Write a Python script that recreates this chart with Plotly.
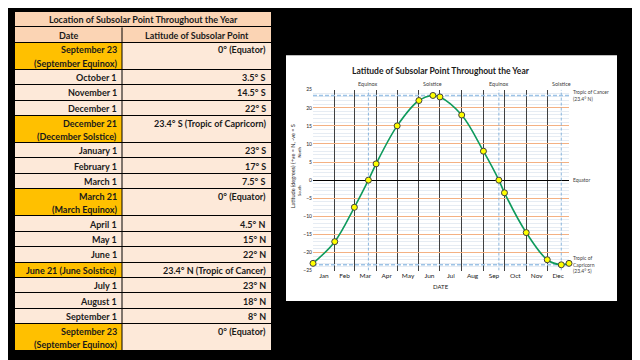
import plotly.graph_objects as go

# ---------------- Table data ----------------
table_title = "Location of Subsolar Point Throughout the Year"
table_headers = ["Date", "Latitude of Subsolar Point"]
table_dates = ["September 23", "October 1", "November 1", "December 1", "December 21",
               "January 1", "February 1", "March 1", "March 21", "April 1", "May 1",
               "June 1", "June 21 (June Solstice)", "July 1", "August 1", "September 1",
               "September 23"]
table_events = ["(September Equinox)", "", "", "", "(December Solstice)",
                "", "", "", "(March Equinox)", "", "",
                "", "", "", "", "",
                "(September Equinox)"]
table_lats = ["0° (Equator)", "3.5° S", "14.5° S", "22° S", "23.4° S (Tropic of Capricorn)",
              "23° S", "17° S", "7.5° S", "0° (Equator)", "4.5° N", "15° N",
              "22° N", "23.4° N (Tropic of Cancer)", "23° N", "18° N", "8° N",
              "0° (Equator)"]
table_highlight = [True, False, False, False, True,
                   False, False, False, True, False, False,
                   False, True, False, False, False,
                   True]

# ---------------- Chart data ----------------
chart_title = "Latitude of Subsolar Point Throughout the Year"
point_dates = ["2021-01-01", "2021-02-01", "2021-03-01", "2021-03-21", "2021-04-01",
               "2021-05-01", "2021-06-01", "2021-06-21", "2021-07-01", "2021-08-01",
               "2021-09-01", "2021-09-23", "2021-10-01", "2021-11-01", "2021-12-01",
               "2021-12-21", "2022-01-01"]
point_lats = [-23, -17, -7.5, 0, 4.5, 15, 22, 23.4, 23, 18, 8, 0, -3.5, -14.5, -22, -23.4, -23]
event_dates = ["2021-03-21", "2021-06-21", "2021-09-23", "2021-12-21"]
event_labels = ["Equinox", "Solstice", "Equinox", "Solstice"]
dashed_event_dates = ["2021-03-21", "2021-09-23", "2021-12-21"]
tropic_lat = 23.4
right_labels = ["Tropic of Cancer<br>(23.4° N)", "Equator", "Tropic of<br>Capricorn<br>(23.4° S)"]
right_label_lats = [23.4, 0, -23.4]
y_title = "Latitude (degrees) (+ve = N, -ve = S"
x_title = "DATE"
X_RANGE = ["2021-01-01", "2022-01-01"]
Y_RANGE = [-25, 25]

# ---------------- Geometry helpers ----------------
W, H = 640, 360
OFF = 8  # page body margin offset of the figure inside the window
def px(x):
    return (x - OFF) / W
def py(y):
    return 1 - (y - OFF) / H

FONT = "Lato"
TXT = "#1a1a1a"

fig = go.Figure()

# ---------------- Table (heatmap cells on own axes) ----------------
COL1, COL2 = 107, 149
TOTW = COL1 + COL2
row_h = [1, 1] + [1.75 if e else 1 for e in table_events]
edges = [0]
for h in row_h:
    edges.append(edges[-1] + h)
total_h = edges[-1]

z = [[2, 2], [2, 2]] + [[1 if hl else 0, 0] for hl in table_highlight]
fig.add_trace(go.Heatmap(
    z=z, x=[0, COL1, TOTW], y=edges,
    zmin=0, zmax=2,
    colorscale=[[0, "#FDE9D9"], [0.5, "#FFC000"], [1, "#FBD4B4"]],
    showscale=False, ygap=1, xgap=0, hoverinfo="skip",
    xaxis="x2", yaxis="y2"))

shapes = []
annotations = []
shapes.append(dict(type="line", xref="x2", yref="y2", x0=COL1, x1=COL1, y0=edges[1], y1=total_h,
                   line=dict(color="black", width=1)))

tfont = dict(family=FONT, size=9, color=TXT, weight="bold")
def tann(x, y, text, xanchor="right"):
    annotations.append(dict(xref="x2", yref="y2", x=x, y=y, xanchor=xanchor, yanchor="middle",
                            text=text, showarrow=False, font=tfont))

tann(TOTW / 2, (edges[0] + edges[1]) / 2, table_title, "center")
tann(COL1 / 2, (edges[1] + edges[2]) / 2, table_headers[0], "center")
tann(COL1 + COL2 / 2, (edges[1] + edges[2]) / 2, table_headers[1], "center")
for i, (d, e, lat) in enumerate(zip(table_dates, table_events, table_lats)):
    top = edges[i + 2]
    bot = edges[i + 3]
    if e:
        y1 = top + 0.45
        y2 = top + 1.32
        tann(COL1 - 3, y1, d)
        tann(COL1 - 3, y2, e)
        tann(TOTW - 3, y1, lat)
    else:
        yc = (top + bot) / 2
        tann(COL1 - 3, yc, d)
        tann(TOTW - 3, yc, lat)

# ---------------- Chart ----------------
shapes.append(dict(type="rect", xref="paper", yref="paper",
                   x0=px(286), x1=px(617), y0=py(303), y1=py(53),
                   fillcolor="white", line=dict(width=0), layer="below"))

# dashed reference lines (as traces so they sit above the grid)
for d in dashed_event_dates:
    fig.add_trace(go.Scatter(x=[d, d], y=Y_RANGE, mode="lines",
                             line=dict(color="#6FA3D6", width=0.8, dash="3px,2px"),
                             hoverinfo="skip", cliponaxis=False, xaxis="x", yaxis="y"))
for lat in (tropic_lat, -tropic_lat):
    fig.add_trace(go.Scatter(x=X_RANGE, y=[lat, lat], mode="lines",
                             line=dict(color="#9DC3E6", width=1.5, dash="4px,2px"),
                             hoverinfo="skip", cliponaxis=False, xaxis="x", yaxis="y"))

fig.add_trace(go.Scatter(
    x=point_dates, y=point_lats, mode="lines+markers",
    line=dict(shape="spline", color="#0E9A5C", width=1.6),
    marker=dict(size=6, color="#FFFF00", line=dict(color="#404040", width=1)),
    cliponaxis=False, hoverinfo="skip", xaxis="x", yaxis="y"))

small = dict(family=FONT, size=5, color="#404040")
for d, lab in zip(event_dates, event_labels):
    annotations.append(dict(xref="x", yref="y domain", x=d, y=1, xanchor="center",
                            yanchor="bottom", yshift=1, text=lab, showarrow=False,
                            font=dict(family=FONT, size=5.5, color="#404040")))
for lab, lat in zip(right_labels, right_label_lats):
    annotations.append(dict(xref="x domain", yref="y", x=1, y=lat, xanchor="left",
                            yanchor="middle", xshift=2, align="left", text=lab,
                            showarrow=False, font=small))

def pann(x, y, text, font, angle=0):
    annotations.append(dict(xref="paper", yref="paper", x=px(x), y=py(y), xanchor="center",
                            yanchor="middle", text=text, textangle=angle, showarrow=False,
                            font=font))

pann(441, 69, chart_title, dict(family=FONT, size=8.5, color=TXT, weight="bold"))
pann(293, 166, y_title, dict(family=FONT, size=5.5, color=TXT), -90)
pann(300, 152, "North", dict(family=FONT, size=4, color=TXT), -90)
pann(300, 191, "South", dict(family=FONT, size=4, color=TXT), -90)
pann(441, 288, x_title, dict(family=FONT, size=6, color=TXT))

fig.update_layout(
    width=W, height=H, margin=dict(l=0, r=0, t=0, b=0),
    paper_bgcolor="black", plot_bgcolor="black",
    showlegend=False,
    xaxis=dict(domain=[px(313), px(569)], type="date",
               range=X_RANGE,
               dtick="M1", tick0="2021-01-01", ticklabelmode="period", tickformat="%b",
               showgrid=True, gridcolor="#404040", gridwidth=1, zeroline=False,
               showline=False, ticks="", tickfont=dict(family=FONT, size=6.5, color=TXT),
               fixedrange=True),
    yaxis=dict(domain=[py(272), py(88)], range=Y_RANGE, dtick=5, tick0=0,
               showgrid=True, gridcolor="#F4B183", gridwidth=1,
               minor=dict(dtick=1, showgrid=True, gridcolor="#E6ECF3", gridwidth=1),
               zeroline=True, zerolinecolor="black", zerolinewidth=1,
               ticks="", tickfont=dict(family=FONT, size=5, color=TXT), fixedrange=True),
    xaxis2=dict(domain=[px(15), px(271)], range=[0, TOTW], visible=False, fixedrange=True),
    yaxis2=dict(domain=[py(354), py(9)], range=[total_h, 0], visible=False, fixedrange=True),
    shapes=shapes, annotations=annotations,
)

fig.write_html("out.html")
